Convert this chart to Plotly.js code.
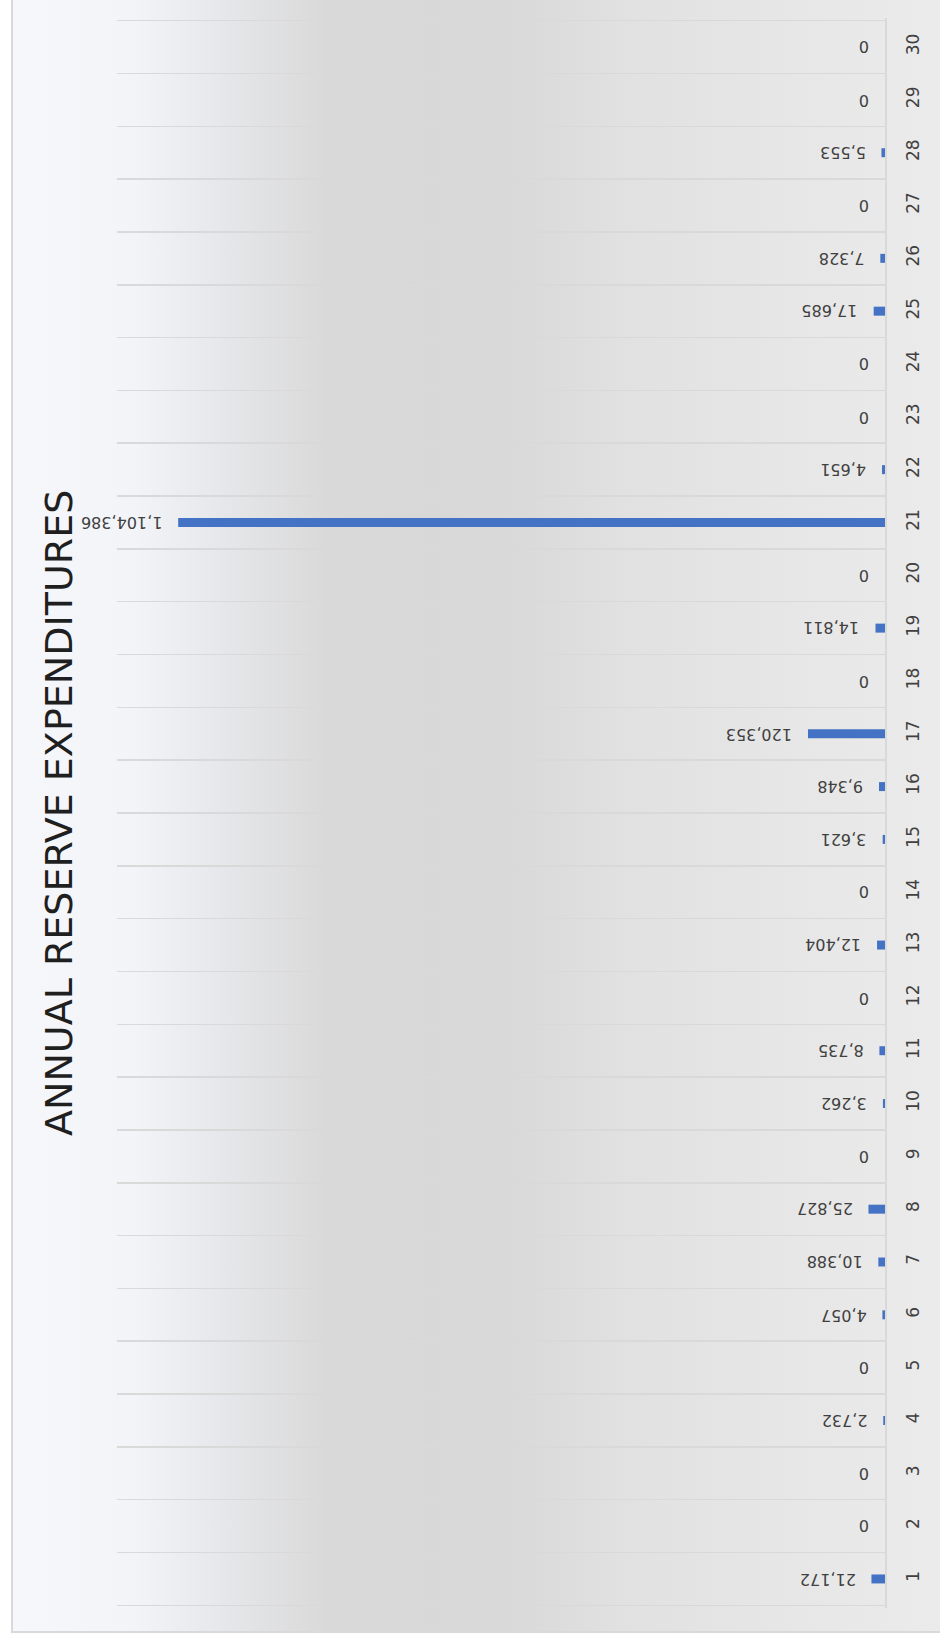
<!DOCTYPE html>
<html>
<head>
<meta charset="utf-8">
<script src="https://cdn.plot.ly/plotly-3.0.1.min.js"></script>
<style>
  html, body { margin: 0; padding: 0; background: #ffffff; }
  #wrap { position: relative; width: 940px; height: 1651px; overflow: hidden; }
  #bg {
    position: absolute; left: 11px; top: -4px; width: 960px; height: 1637px;
    border: 2px solid #d9d9d9; box-sizing: border-box;
    background: linear-gradient(to right, #f6f7fb 0px, #f3f4f8 120px, #e6e7ea 210px, #d9d9d9 315px, #d8d8d8 420px, #dadada 515px, #e1e1e1 610px, #e6e6e6 760px, #ebebeb 930px);
  }
  #chart { position: absolute; left: 0; top: 0; width: 940px; height: 1651px; }
</style>
</head>
<body>
<div id="wrap">
  <div id="bg"></div>
  <div id="chart"></div>
</div>
<script>
// Data
const categories = [1,2,3,4,5,6,7,8,9,10,11,12,13,14,15,16,17,18,19,20,21,22,23,24,25,26,27,28,29,30];
const tickLabels = ['1','2','3','4','5','6','7','8','9','10','11','12','13','14','15','16','17','18','19','20','21','22','23','24','25','26','27','28','29','30'];
const expenditures = [21172,0,0,2732,0,4057,10388,25827,0,3262,8735,0,12404,0,3621,9348,120353,0,14811,0,1104386,4651,0,0,17685,7328,0,5553,0,0];
const chartTitle = 'ANNUAL RESERVE EXPENDITURES';

const trace = {
  type: 'bar',
  orientation: 'h',
  x: expenditures,
  y: categories,
  marker: { color: '#4472C4' },
  width: 0.17,
  hoverinfo: 'none'
};

// Upside-down data labels, placed just beyond each bar's end
const labelAnnotations = expenditures.map((v, i) => ({
  text: v.toLocaleString('en-US'),
  xref: 'x', yref: 'y',
  x: v, y: categories[i],
  xanchor: 'right', yanchor: 'middle',
  xshift: -14,
  textangle: 180,
  showarrow: false,
  font: { family: 'DejaVu Sans', size: 16, color: '#404040' }
}));

const layout = {
  width: 940,
  height: 1651,
  paper_bgcolor: 'rgba(0,0,0,0)',
  plot_bgcolor: 'rgba(0,0,0,0)',
  margin: { l: 117, r: 55, t: 18, b: 43 },
  showlegend: false,
  xaxis: {
    range: [1200000, 0],
    showgrid: false,
    zeroline: false,
    showticklabels: false,
    showline: false,
    ticks: ''
  },
  yaxis: {
    type: 'linear',
    side: 'right',
    range: [0.45, 30.55],
    tickvals: categories,
    ticktext: tickLabels,
    tickangle: -90,
    ticks: '',
    showgrid: false,
    zeroline: false,
    showline: true,
    linecolor: '#d9d9d9',
    linewidth: 1.5,
    tickfont: { family: 'DejaVu Sans', size: 17, color: '#404040' },
    ticklabelstandoff: 12,
    minor: { tick0: 0.5, dtick: 1, showgrid: true, gridcolor: '#d9d9d9', gridwidth: 1.5, ticks: '' }
  },
  annotations: [{
    text: chartTitle,
    xref: 'paper', yref: 'paper',
    x: -0.0755, y: 0.5,
    xanchor: 'center', yanchor: 'middle',
    textangle: -90,
    showarrow: false,
    font: { family: 'DejaVu Sans', size: 38, color: '#1f1f1f' }
  }].concat(labelAnnotations)
};

Plotly.newPlot('chart', [trace], layout, { staticPlot: true, displayModeBar: false });
</script>
</body>
</html>
